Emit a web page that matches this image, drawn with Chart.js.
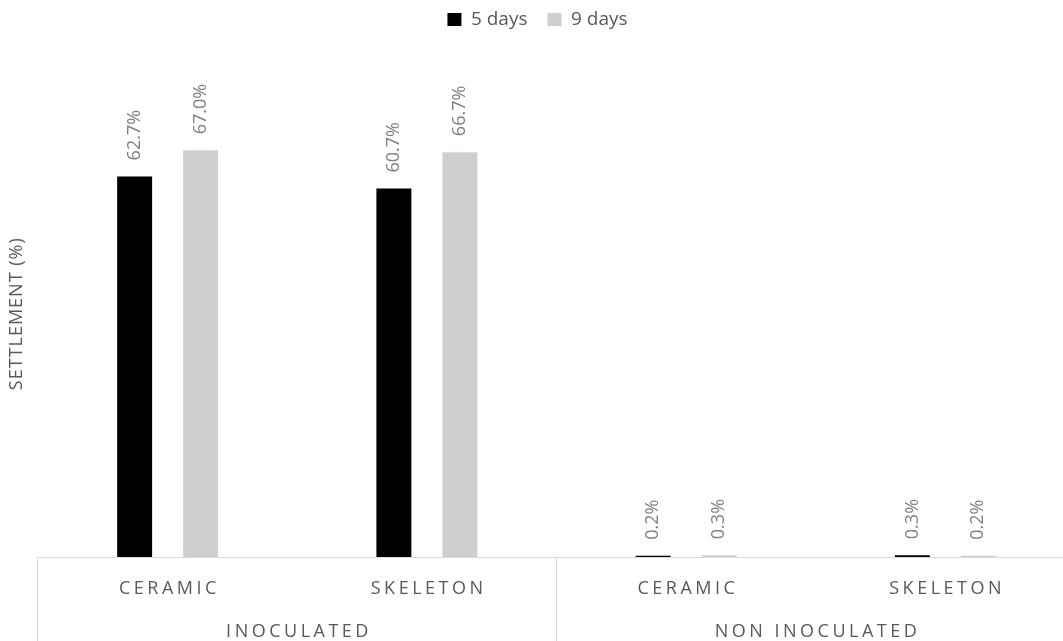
<!DOCTYPE html>
<html><head><meta charset="utf-8">
<script src="https://cdn.jsdelivr.net/npm/chart.js@4"></script>
<style>html,body{margin:0;padding:0;background:#fff;overflow:hidden;}#wrap{width:1075px;height:641px;}</style>
</head><body><div id="wrap"><canvas id="c" width="1075" height="641"></canvas></div>
<script>
const categories = ['CERAMIC', 'SKELETON', 'CERAMIC', 'SKELETON'];
const groups = ['INOCULATED', 'NON INOCULATED'];
const groupSizes = [2, 2];
const seriesNames = ['5 days', '9 days'];
const days5 = [62.7, 60.7, 0.2, 0.3];
const days9 = [67.0, 66.7, 0.3, 0.2];
const yTitle = 'SETTLEMENT (%)';
const yMin = 0, yMax = 80;

const FONT = "'Open Sans', sans-serif";
const LINE = '#d9d9d9';
const TEXT = '#595959';

const overlay = {
  id: 'overlay',
  afterDatasetsDraw(chart) {
    const ctx = chart.ctx;
    ctx.save();
    ctx.font = '18px ' + FONT;
    ctx.fillStyle = '#808080';
    ctx.textAlign = 'left';
    ctx.textBaseline = 'middle';
    chart.data.datasets.forEach((ds, di) => {
      const meta = chart.getDatasetMeta(di);
      meta.data.forEach((el, i) => {
        ctx.save();
        ctx.translate(el.x, el.y - 16);
        ctx.rotate(-Math.PI / 2);
        ctx.fillText(ds.data[i].toFixed(1) + '%', 0, 0);
        ctx.restore();
      });
    });
    ctx.restore();
  },
  afterDraw(chart) {
    const ctx = chart.ctx;
    const x = chart.scales.x;
    const area = chart.chartArea;
    const bottom = chart.height;
    const half = (x.getPixelForValue(1) - x.getPixelForValue(0)) / 2;
    ctx.save();
    ctx.strokeStyle = LINE;
    ctx.lineWidth = 1;
    ctx.beginPath();
    const yb = Math.round(area.bottom) + 0.5;
    ctx.moveTo(Math.round(area.left) - 0.5, yb);
    ctx.lineTo(area.right, yb);
    let idx = 0;
    const seps = [idx];
    groupSizes.forEach(n => { idx += n; seps.push(idx); });
    seps.forEach(k => {
      const px = Math.round(x.getPixelForValue(k) - half) - 0.5;
      ctx.moveTo(px, yb);
      ctx.lineTo(px, bottom);
    });
    ctx.stroke();
    ctx.fillStyle = TEXT;
    ctx.textAlign = 'center';
    ctx.textBaseline = 'alphabetic';
    ctx.font = '18px ' + FONT;
    ctx.letterSpacing = '3.5px';
    categories.forEach((c, i) => {
      ctx.fillText(c, x.getPixelForValue(i) + 1.75, 594);
    });
    idx = 0;
    groups.forEach((g, gi) => {
      const a = x.getPixelForValue(idx);
      const b = x.getPixelForValue(idx + groupSizes[gi] - 1);
      ctx.fillText(g, (a + b) / 2 + 1.75, 637);
      idx += groupSizes[gi];
    });
    ctx.letterSpacing = '1px';
    ctx.font = '18px ' + FONT;
    ctx.translate(22, (area.top + area.bottom) / 2);
    ctx.rotate(-Math.PI / 2);
    ctx.fillText(yTitle, 0.5, 0);
    ctx.restore();
  }
};

new Chart(document.getElementById('c'), {
  type: 'bar',
  data: {
    labels: categories,
    datasets: [
      { label: seriesNames[0], data: days5, backgroundColor: '#000000', categoryPercentage: 0.509, barPercentage: 0.53 },
      { label: seriesNames[1], data: days9, backgroundColor: '#d0cece', categoryPercentage: 0.509, barPercentage: 0.53 }
    ]
  },
  options: {
    responsive: false,
    animation: false,
    layout: { padding: { top: -10, left: 0, right: 0, bottom: 0 } },
    plugins: {
      legend: {
        position: 'top',
        labels: { font: { family: FONT, size: 19 }, color: TEXT, boxWidth: 14, boxHeight: 13, padding: 20 }
      },
      title: { display: true, text: '', padding: 0, font: { size: 32.4, lineHeight: 1 }, weight: 500 },
      tooltip: { enabled: false }
    },
    scales: {
      x: {
        ticks: { display: false },
        grid: { display: false },
        border: { display: false },
        afterFit(s) { s.height = 84; }
      },
      y: {
        min: yMin, max: yMax,
        ticks: { display: false },
        grid: { display: false },
        border: { display: false },
        afterFit(s) { s.width = 38; }
      }
    }
  },
  plugins: [overlay]
});
</script>
</body></html>
